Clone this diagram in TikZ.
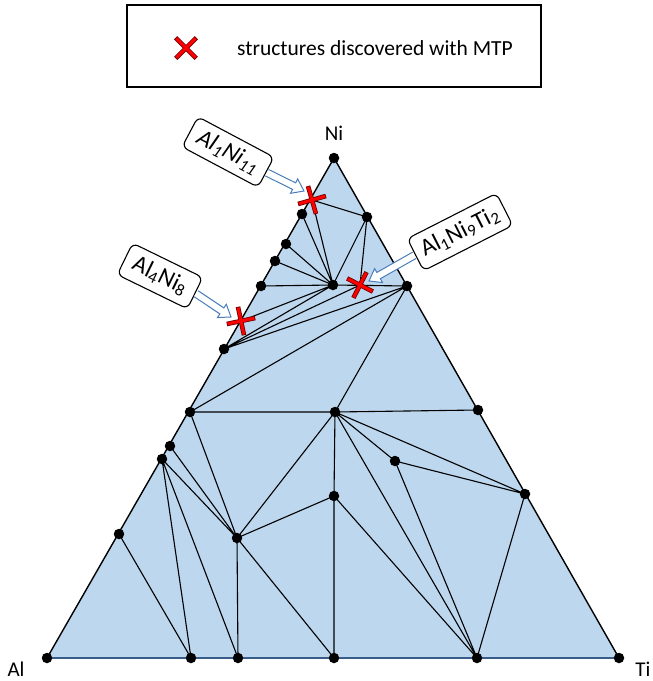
\documentclass[tikz,border=0pt]{standalone}
\usepackage{fontspec}
\setmainfont{Carlito}
\usetikzlibrary{calc}
\definecolor{trifill}{RGB}{189,215,238}
\definecolor{arrowblue}{RGB}{74,126,187}
\definecolor{edgeblue}{RGB}{56,93,138}
\definecolor{xdark}{RGB}{110,0,0}
\newcommand{\blkarrow}[2]{%
  \coordinate (hb) at ($(#2)!11pt!(#1)$);
  \coordinate (st) at ($(#1)!0.6pt!(#2)$);
  \filldraw[arr] ($(st)!3.6pt!90:(#2)$) -- ($(hb)!3.6pt!90:(#2)$) -- ($(hb)!8pt!90:(#2)$) -- (#2)
     -- ($(hb)!8pt!-90:(#2)$) -- ($(hb)!3.6pt!-90:(#2)$) -- ($(st)!3.6pt!-90:(#2)$);
}
\begin{document}
\begin{tikzpicture}[x=1pt,y=-1pt,
  vdot/.style={circle,fill=black,inner sep=0pt,minimum size=10.5pt},
  mesh/.style={line width=1.1pt,black},
  box/.style={draw=black,fill=white,rounded corners=6pt,line width=1.1pt,inner sep=0pt,font=\fontsize{24}{28}\selectfont},
  arr/.style={draw=arrowblue,fill=white,line width=1pt,line join=miter},
  corner/.style={inner sep=0pt,font=\fontsize{21}{24}\selectfont},
  xmark/.pic={
    \draw[line width=4.6pt,draw=xdark] (-14.5,0)--(14.5,0) (0,-14.5)--(0,14.5);
    \draw[line width=3pt,draw=red] (-13.7,0)--(13.7,0) (0,-13.7)--(0,13.7);
  }
]
\useasboundingbox (0,0) rectangle (653,681);

% legend
\node[draw=black,line width=1.2pt,minimum width=414pt,minimum height=82pt,inner sep=0pt] (leg) at (334,46) {};
\pic[rotate=45] at (186,48) {xmark};
\node[anchor=west,inner sep=0pt,font=\fontsize{21.5}{25}\selectfont] (legtxt) at (237,48) {structures discovered with MTP};

% coordinates
\coordinate (A) at (47,658);
\coordinate (T) at (619,658);
\coordinate (N) at (334,158);
\coordinate (l1) at (119,534);
\coordinate (l2) at (162,459);
\coordinate (l3) at (170,446);
\coordinate (l4) at (190,412);
\coordinate (l5) at (224,349);
\coordinate (l6) at (261,286);
\coordinate (l7) at (275,261);
\coordinate (l8) at (286,244);
\coordinate (l9) at (302,214);
\coordinate (r1) at (367,217);
\coordinate (r2) at (407,286);
\coordinate (r3) at (478,410);
\coordinate (r4) at (525,494);
\coordinate (s1) at (191,658);
\coordinate (s2) at (238,658);
\coordinate (s3) at (334,658);
\coordinate (s4) at (477,658);
\coordinate (c0) at (333,285);
\coordinate (m1) at (335,412);
\coordinate (m2) at (237,538);
\coordinate (m3) at (334,496);
\coordinate (m4) at (395,461);
\coordinate (X1) at (312,200);
\coordinate (X2) at (360,285);
\coordinate (X3) at (241,321);

% triangle fill
\fill[trifill] (A) -- (N) -- (T) -- cycle;

% mesh lines
\draw[mesh] (X1) -- (c0) (l9) -- (c0) (l8) -- (c0) (l7) -- (c0) (l6) -- (c0) (c0) -- (r2)
  (X1) -- (r1) (r1) -- (c0) (r1) -- (X2)
  (l5) -- (c0) (l5) -- (X2) (l5) -- (r2) (X3) -- (c0)
  (r2) -- (l4) (r2) -- (m1) (l4) -- (m1) (m1) -- (r3)
  (l4) -- (m2) (l3) -- (m2) (l2) -- (m2) (l2) -- (s2) (l2) -- (s1) (l1) -- (s1)
  (m2) -- (s2) (m2) -- (m1) (m2) -- (m3) (m2) -- (s3)
  (m1) -- (m3) (m3) -- (s3) (m3) -- (s4)
  (m1) -- (s4) (m1) -- (m4) (m1) -- (r4) (m4) -- (s4) (m4) -- (r4) (r4) -- (s4);

% triangle outline
\draw[line width=1.5pt,edgeblue] (A) -- (T);
\draw[line width=1.4pt,black,line join=round] (A) -- (N) -- (T);

% dots
\foreach \p in {A,T,N,l1,l2,l3,l4,l5,l6,l7,l8,l9,r1,r2,r3,r4,s1,s2,s3,s4,c0,m1,m2,m3,m4}
  \node[vdot] (d\p) at (\p) {};

% crosses
\pic[rotate=16] at (X1) {xmark};
\pic[rotate=-27] at (X2) {xmark};
\pic[rotate=12] at (X3) {xmark};

% corner labels
\node[corner] (labNi) at (334,133) {Ni};
\node[corner] (labAl) at (16,669) {Al};
\node[corner] (labTi) at (643,669) {Ti};

% label boxes
\node[box,rotate=-28,minimum width=86pt,minimum height=34pt] (b1) at (228,152) {\itshape Al\textsubscript{1}Ni\textsubscript{11}};
\node[box,rotate=27,minimum width=100pt,minimum height=36pt] (b2) at (460,232) {Al\textsubscript{1}Ni\textsubscript{9}Ti\textsubscript{2}};
\node[box,rotate=-26,minimum width=78pt,minimum height=35pt] (b3) at (160,276) {Al\textsubscript{4}Ni\textsubscript{8}};

\coordinate (t1) at (304,191);
\coordinate (t2) at (369,281);
\coordinate (t3) at (231,317);
\blkarrow{b1.east}{t1}
\blkarrow{b2.west}{t2}
\blkarrow{b3.east}{t3}
\end{tikzpicture}
\end{document}
